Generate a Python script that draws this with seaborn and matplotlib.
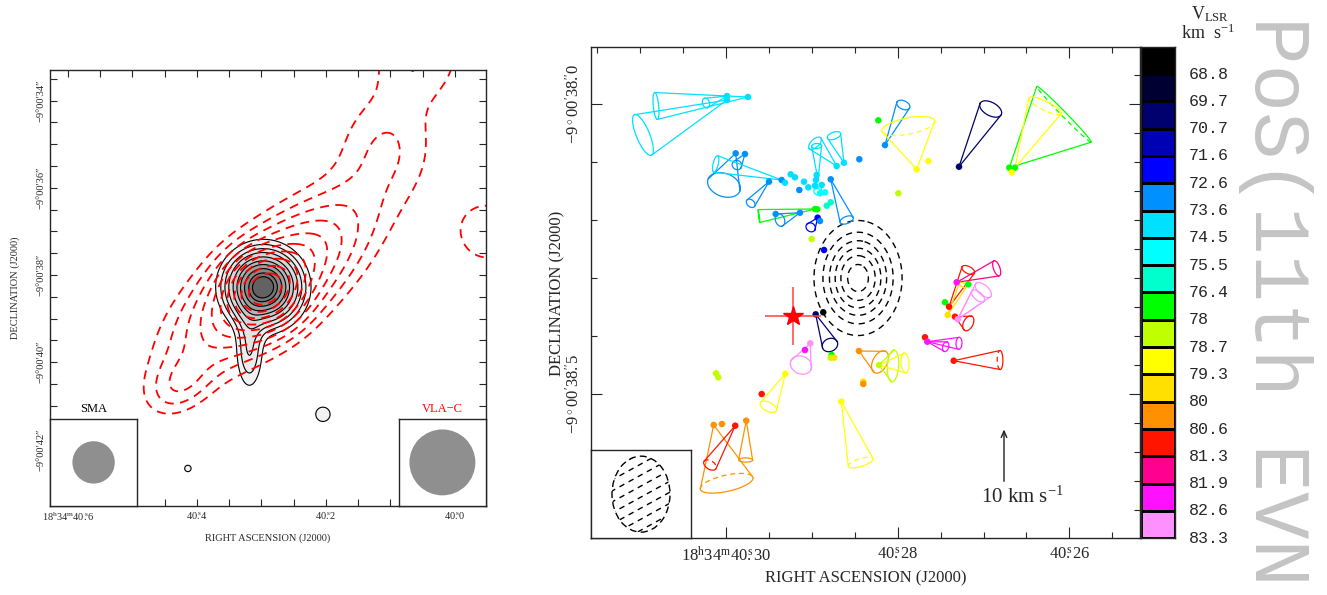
import numpy as np
import matplotlib
matplotlib.use("Agg")
import matplotlib.pyplot as plt
import seaborn as sns
from matplotlib.colors import ListedColormap, Normalize
from matplotlib.patches import Ellipse
from matplotlib.ticker import MultipleLocator, FixedLocator

W, H = 1327, 595
# arcsec per second of RA at dec -9 deg (15 * cos dec)
ARCSEC_PER_S = 14.815

# ---------------- left panel: SMA continuum + VLA-C ----------------
# gaussian components
# RA in seconds of 18h34m, Dec in arcsec of -9d00m
SMA_RA = [40.2969, 40.3185, 40.2046, 40.4138]
SMA_DEC = [38.276, 39.75, 41.195, 42.437]
SMA_AMP = [1.0, 0.22, 0.14, 0.14]
SMA_SMAJ = [0.51, 0.22, 0.20, 0.09]
SMA_SMIN = [0.51, 0.62, 0.20, 0.09]
SMA_PA = [0, 0, 0, 0]
SMA_LEVELS = [0.1, 0.16, 0.225, 0.3, 0.4, 0.5, 0.6, 0.71, 0.82, 0.9]

VLA_RA = [40.2954, 40.2800, 40.2900, 40.1108, 40.0569, 39.9500, 40.4262]
VLA_DEC = [38.345, 38.115, 38.30, 34.897, 32.95, 37.011, 40.529]
VLA_AMP = [0.45, 0.42, 0.25, 0.13, 0.16, 0.15, 0.15]
VLA_SMAJ = [0.55, 2.00, 1.10, 0.85, 0.80, 0.65, 0.57]
VLA_SMIN = [0.55, 0.78, 0.60, 0.85, 0.80, 0.65, 0.40]
VLA_PA = [0, 40, 40, 0, 0, 0, 40]
VLA_LEVELS = [0.1, 0.16, 0.23, 0.31, 0.4, 0.5, 0.6, 0.72, 0.85, 0.98]

SMA_BEAM = 0.94   # arcsec
VLA_BEAM = 1.48

# ---------------- right panel: masers ----------------
VEL_LABELS = ["68.8", "69.7", "70.7", "71.6", "72.6", "73.6", "74.5", "75.5", "76.4",
              "78", "78.7", "79.3", "80", "80.6", "81.3", "81.9", "82.6", "83.3"]
VEL_COLORS = ["#000000", "#000033", "#00006e", "#0000b4", "#0000ff", "#0090ff",
              "#00e0ff", "#00ffff", "#00ffcc", "#00ff00", "#c0ff00", "#ffff00",
              "#ffe000", "#ff9000", "#ff1400", "#ff0090", "#ff10ff", "#ff90ff"]

SPOT_RA = [40.29988, 40.29988, 40.29744, 40.29887, 40.29779, 40.29351, 40.29313, 40.29499,
           40.28963, 40.28937, 40.29138, 40.29421, 40.28932, 40.28905, 40.29002, 40.28858,
           40.29246, 40.29196, 40.29091, 40.29146, 40.29041, 40.28963, 40.28952, 40.28944,
           40.28885, 40.28905, 40.28847, 40.28827, 40.28780, 40.28711, 40.28626, 40.28780,
           40.28447, 40.28148, 40.28226, 40.27779, 40.27644, 40.27993, 40.27286, 40.26700,
           40.26634, 40.26672, 40.28867, 40.28955, 40.29018, 40.29080, 40.28769, 40.28780,
           40.28739, 40.30116, 40.30090, 40.29309, 40.29584, 40.30143, 40.30047, 40.29892,
           40.29764, 40.28657, 40.28451, 40.28401, 40.28401, 40.28218, 40.27449, 40.27402,
           40.27418, 40.27333, 40.27301, 40.27313, 40.27178, 40.27682, 40.27655, 40.27348]
SPOT_DEC = [37.9857, 37.9926, 37.9874, 38.0845, 38.0857, 38.1305, 38.1352, 38.1334,
            38.1805, 38.1810, 38.1869, 38.1891, 38.1955, 38.2012, 38.2322, 38.2512,
            38.1207, 38.1259, 38.1334, 38.1478, 38.1431, 38.1403, 38.1305, 38.1219,
            38.1391, 38.1534, 38.1517, 38.1748, 38.1690, 38.1064, 38.1007, 38.1293,
            38.0948, 38.0703, 38.0276, 38.1121, 38.0978, 38.1534, 38.1076, 38.1093,
            38.1093, 38.1172, 38.3586, 38.3621, 38.4121, 38.4236, 38.4322, 38.4369,
            38.4369, 38.4638, 38.4707, 38.4645, 38.4995, 38.5529, 38.5512, 38.5541,
            38.5455, 38.5127, 38.4253, 38.4783, 38.4822, 38.4495, 38.3414, 38.3490,
            38.3633, 38.3662, 38.3707, 38.3069, 38.3103, 38.4017, 38.4093, 38.4421]
SPOT_V = [6, 6, 6, 5, 5, 5, 6, 5,
          9, 9, 5, 5, 4, 5, 10, 4,
          6, 6, 6, 5, 6, 6, 6, 6,
          6, 7, 7, 8, 8, 6, 6, 5,
          5, 5, 9, 11, 11, 10, 2, 9,
          9, 11, 0, 2, 17, 16, 9, 10,
          12, 10, 10, 11, 14, 13, 13, 14,
          13, 11, 13, 12, 13, 10, 9, 14,
          12, 14, 17, 16, 9, 14, 16, 14]

# 3D velocity cones: apex at the spot, base centre at the vector tip
CONE_RA0 = [40.29988, 40.29744, 40.29988, 40.29887, 40.29779, 40.29351, 40.29499, 40.28963,
            40.29138, 40.28932, 40.28711, 40.28928, 40.28626, 40.28780, 40.28885, 40.28148,
            40.27779, 40.27286, 40.26700, 40.26634, 40.28955, 40.29018, 40.29309, 40.30143,
            40.29892, 40.29764, 40.28657, 40.28451, 40.28218, 40.28218, 40.27333, 40.27301,
            40.27313, 40.27402, 40.27655, 40.27655, 40.27348, 40.27301, 40.27418]
CONE_DEC0 = [37.9926, 37.9874, 37.9857, 38.0845, 38.0857, 38.1305, 38.1334, 38.1805,
             38.1869, 38.1955, 38.1064, 38.1305, 38.1007, 38.1293, 38.1391, 38.0703,
             38.1121, 38.1076, 38.1093, 38.1093, 38.3621, 38.4121, 38.4645, 38.5529,
             38.5541, 38.5455, 38.5127, 38.4253, 38.4495, 38.4495, 38.3662, 38.3707,
             38.3069, 38.3490, 38.4093, 38.4093, 38.4421, 38.3707, 38.3633]
CONE_RA1 = [40.30967, 40.30815, 40.30233, 40.30023, 40.29872, 40.30120, 40.29712, 40.29616,
            40.29371, 40.29013, 40.28963, 40.28944, 40.28742, 40.28594, 40.28932, 40.27935,
            40.27877, 40.26917, 40.26063, 40.26284, 40.28789, 40.29126, 40.29507, 40.29992,
            40.30186, 40.29771, 40.28431, 40.28206, 40.28055, 40.27915, 40.27178, 40.27003,
            40.26847, 40.27178, 40.27286, 40.27441, 40.26808, 40.27065, 40.27239]
CONE_DEC1 = [38.0529, 38.0029, 37.9978, 38.1391, 38.1047, 38.1029, 38.1707, 38.1926,
             38.1995, 38.2121, 38.0672, 38.0719, 38.0541, 38.1995, 38.1507, 38.0012,
             38.0374, 38.0081, 38.0172, 38.0026, 38.4150, 38.4495, 38.5214, 38.6534,
             38.6219, 38.6133, 38.6176, 38.4443, 38.4512, 38.4460, 38.3776, 38.3202,
             38.2828, 38.2857, 38.4121, 38.4179, 38.4409, 38.3305, 38.3115]
CONE_R = [0.0379, 0.0233, 0.0086, 0.0293, 0.0086, 0.0147, 0.0086, 0.0112,
          0.0112, 0.0086, 0.0138, 0.0086, 0.0121, 0.0121, 0.0069, 0.0121,
          0.0466, 0.0207, 0.0672, 0.0310, 0.0138, 0.0190, 0.0155, 0.0466,
          0.0121, 0.0121, 0.0224, 0.0207, 0.0276, 0.0172, 0.0138, 0.0172,
          0.0138, 0.0121, 0.0103, 0.0086, 0.0164, 0.0138, 0.0069]
CONE_Q = [0.3, 0.2, 0.7, 0.68, 0.9, 0.3, 0.7, 0.05,
          0.7, 0.85, 0.5, 0.5, 0.5, 0.5, 0.8, 0.6,
          0.3, 0.55, 0.06, 0.25, 0.8, 0.8, 0.5, 0.3,
          0.6, 0.3, 0.3, 0.6, 0.35, 0.4, 0.6, 0.5,
          0.4, 0.5, 0.5, 0.6, 0.3, 0.5, 0.5]
CONE_V = [6, 6, 6, 5, 5, 6, 5, 9,
          5, 4, 6, 6, 6, 5, 7, 5,
          11, 2, 9, 11, 2, 17, 11, 13,
          14, 13, 11, 13, 10, 11, 14, 17,
          15, 14, 16, 16, 14, 17, 12]
CONE_BACK = [0, 0, 0, 0, 0, 0, 0, 0,
             0, 0, 0, 0, 0, 0, 0, 0,
             1, 0, 1, 1, 0, 0, 0, 1,
             1, 0, 1, 0, 0, 0, 0, 0,
             0, 0, 0, 0, 1, 0, 0]

# dashed continuum contours in the maser panel
DISK_RA, DISK_DEC = 40.28462, 38.2995
DISK_SX, DISK_SY = 0.039, 0.0509
DISK_LEVELS = [0.15, 0.3, 0.45, 0.6, 0.75, 0.9]
BEAM_R_MAJ, BEAM_R_MIN = 0.0655, 0.05

STAR_RA, STAR_DEC = 40.29223, 38.3645
STAR_ERR_RA, STAR_ERR_DEC = 0.00326, 0.050

ARROW_RA, ARROW_DEC0, ARROW_DEC1 = 40.26762, 38.6547, 38.5559


def gauss_map(RA, DEC, ras, decs, amps, smaj, smin, pa):
    Z = np.zeros_like(RA)
    for ra, dec, a, s1, s2, p in zip(ras, decs, amps, smaj, smin, pa):
        U = -(RA - ra) * ARCSEC_PER_S
        V = -(DEC - dec)
        th = np.radians(p)
        u = U * np.cos(th) + V * np.sin(th)
        v = -U * np.sin(th) + V * np.cos(th)
        Z += a * np.exp(-0.5 * (u ** 2 / s1 ** 2 + v ** 2 / s2 ** 2))
    return Z


def draw_cone(ax, ra0, dec0, ra1, dec1, r, q, color, back):
    # work in isotropic arcsec coords (U right, V up)
    p0 = np.array([-ra0 * ARCSEC_PER_S, -dec0])
    p1 = np.array([-ra1 * ARCSEC_PER_S, -dec1])
    d = p1 - p0
    e = d / np.hypot(*d)
    n = np.array([-e[1], e[0]])

    def to_sky(pts):
        return -pts[:, 0] / ARCSEC_PER_S, -pts[:, 1]

    for sgn in (1, -1):
        seg = np.array([p0, p1 + sgn * r * n])
        x, y = to_sky(seg)
        ax.plot(x, y, color=color, lw=0.9, solid_capstyle="round")

    if back:
        t = np.linspace(0, np.pi, 60)
        far = p1 + np.outer(r * np.cos(t), n) + np.outer(r * q * np.sin(t), e)
        x, y = to_sky(far)
        ax.plot(x, y, color=color, lw=0.9)
        t = np.linspace(np.pi, 2 * np.pi, 60)
        near = p1 + np.outer(r * np.cos(t), n) + np.outer(r * q * np.sin(t), e)
        x, y = to_sky(near)
        ax.plot(x, y, color=color, lw=0.9, ls=(0, (4, 3)))
    else:
        t = np.linspace(0, 2 * np.pi, 100)
        ell = p1 + np.outer(r * np.cos(t), n) + np.outer(r * q * np.sin(t), e)
        x, y = to_sky(ell)
        ax.plot(x, y, color=color, lw=0.9)


sns.set_style("ticks", {"xtick.direction": "in", "ytick.direction": "in"})
plt.rcParams["font.family"] = ["Liberation Serif", "DejaVu Serif"]
plt.rcParams["mathtext.fontset"] = "custom"
plt.rcParams["mathtext.rm"] = "Liberation Serif"
plt.rcParams["mathtext.it"] = "Liberation Serif:italic"

fig = plt.figure(figsize=(W / 100, H / 100), dpi=100)

# ================= left panel =================
axL = fig.add_axes([50 / W, 1 - 506 / H, 436 / W, 436 / H])
ra_g = np.linspace(39.94, 40.64, 500)
dec_g = np.linspace(33.2, 43.4, 500)
RA, DEC = np.meshgrid(ra_g, dec_g)

sma = gauss_map(RA, DEC, SMA_RA, SMA_DEC, SMA_AMP, SMA_SMAJ, SMA_SMIN, SMA_PA)
vla = gauss_map(RA, DEC, VLA_RA, VLA_DEC, VLA_AMP, VLA_SMAJ, VLA_SMIN, VLA_PA)

axL.contourf(RA, DEC, sma, levels=SMA_LEVELS + [sma.max() + 0.01], cmap="Greys",
             norm=Normalize(vmin=-0.02, vmax=1.4))
axL.contour(RA, DEC, sma, levels=SMA_LEVELS, colors="black", linewidths=0.8)
cv = axL.contour(RA, DEC, vla, levels=VLA_LEVELS, colors="red", linewidths=1.3)
cv.set_linestyle((0, (5, 3.5)))

axL.set_xlim(40.62742, 39.95198)
axL.set_ylim(43.298, 33.298)
axL.xaxis.set_major_locator(FixedLocator([40.6, 40.4, 40.2, 40.0]))
axL.xaxis.set_minor_locator(MultipleLocator(0.05))
axL.yaxis.set_major_locator(FixedLocator([34, 36, 38, 40, 42]))
axL.yaxis.set_minor_locator(MultipleLocator(0.5))
axL.set_xticklabels([r"18$^{\rm h}$34$^{\rm m}$40$\overset{\rm s}{.}$6",
                     r"40$\overset{\rm s}{.}$4", r"40$\overset{\rm s}{.}$2",
                     r"40$\overset{\rm s}{.}$0"])
axL.set_yticklabels(["\u22129\u00b000\u2032%d\u2033" % d for d in [34, 36, 38, 40, 42]],
                    rotation=90, va="center")
axL.tick_params(which="both", direction="in", top=True, right=True,
                length=5, width=0.8, labelsize=7.5, pad=3)
for s in axL.spines.values():
    s.set_linewidth(1.0)

# beam boxes
for pos, beam, name, col in [((0, 0), SMA_BEAM, "SMA", "black"),
                             ((0.8, 0), VLA_BEAM, "VLA\u2212C", "red")]:
    bx = axL.inset_axes([pos[0], pos[1], 0.2, 0.2])
    bx.set_xlim(-1, 1)
    bx.set_ylim(-1, 1)
    bx.add_patch(Ellipse((0, 0), beam, beam, color="#8f8f8f"))
    bx.set_xticks([])
    bx.set_yticks([])
    bx.set_facecolor("white")
    for s in bx.spines.values():
        s.set_linewidth(1.0)
    axL.text(pos[0] + 0.1, 0.222, name, transform=axL.transAxes, ha="center",
             va="center", fontsize=9, color=col)

fig.text(268 / W, 1 - 538 / H, "RIGHT ASCENSION (J2000)", ha="center", va="center",
         fontsize=7.5)
fig.text(15 / W, 1 - 288 / H, "DECLINATION (J2000)", ha="center", va="center",
         fontsize=7.5, rotation=90)

# ================= right panel =================
axR = fig.add_axes([591 / W, 1 - 538.3 / H, 549 / W, 491.6 / H])
ra_r = np.linspace(40.25, 40.32, 400)
dec_r = np.linspace(37.89, 38.76, 400)
RR, DR = np.meshgrid(ra_r, dec_r)
disk = gauss_map(RR, DR, [DISK_RA], [DISK_DEC], [1.0], [DISK_SX], [DISK_SY], [0])
cd = axR.contour(RR, DR, disk, levels=DISK_LEVELS, colors="black", linewidths=1.0)
cd.set_linestyle((0, (4.5, 3.5)))

for i in range(len(CONE_RA0)):
    draw_cone(axR, CONE_RA0[i], CONE_DEC0[i], CONE_RA1[i], CONE_DEC1[i],
              CONE_R[i], CONE_Q[i], VEL_COLORS[CONE_V[i]], CONE_BACK[i])

palette = {i: c for i, c in enumerate(VEL_COLORS)}
sns.scatterplot(x=SPOT_RA, y=SPOT_DEC, hue=SPOT_V, palette=palette, s=22,
                linewidth=0, legend=False, ax=axR, zorder=5)

axR.errorbar(STAR_RA, STAR_DEC, xerr=STAR_ERR_RA, yerr=STAR_ERR_DEC, fmt="*",
             color="red", ms=15, ecolor="#ff4040", elinewidth=1.1, capsize=0, zorder=6)

axR.annotate("", xy=(ARROW_RA, ARROW_DEC1), xytext=(ARROW_RA, ARROW_DEC0),
             arrowprops=dict(arrowstyle="->,head_length=0.45,head_width=0.2",
                             lw=1.0, color="#222222"))
axR.text(40.26541, 38.6766, r"10 km s$^{-1}$", ha="center", va="center", fontsize=15)

axR.set_xlim(40.31572, 40.25178)
axR.set_ylim(38.74826, 37.90069)
axR.xaxis.set_major_locator(FixedLocator([40.30, 40.28, 40.26]))
axR.xaxis.set_minor_locator(MultipleLocator(0.005))
axR.yaxis.set_major_locator(FixedLocator([38.0, 38.5]))
axR.yaxis.set_minor_locator(MultipleLocator(0.1))
axR.set_xticklabels([r"18$^{\rm h}$34$^{\rm m}$40$\overset{\rm s}{.}$30",
                     r"40$\overset{\rm s}{.}$28", r"40$\overset{\rm s}{.}$26"])
axR.set_yticklabels([r"$-$9$^\circ$00$^\prime$38$\overset{\prime\prime}{.}$0",
                     r"$-$9$^\circ$00$^\prime$38$\overset{\prime\prime}{.}$5"],
                    rotation=90, va="center")
axR.tick_params(which="major", direction="in", top=True, right=False,
                length=8, width=0.8, labelsize=12, pad=6)
axR.tick_params(which="minor", direction="in", top=True, right=False,
                length=4.5, width=0.8)
sec = axR.secondary_yaxis("right")
sec.yaxis.set_major_locator(FixedLocator([38.0, 38.5]))
sec.yaxis.set_minor_locator(MultipleLocator(0.05))
sec.tick_params(which="major", direction="in", length=8, width=0.8, labelright=False)
sec.tick_params(which="minor", direction="in", length=4.5, width=0.8)
for s in axR.spines.values():
    s.set_linewidth(1.0)

# beam inset in maser panel
bb = axR.inset_axes([0, 0, 100 / 549, 88.3 / 491.6])
bb.set_xlim(-0.0862, 0.0862)
bb.set_ylim(-0.0761, 0.0761)
beam = Ellipse((0, 0), 2 * BEAM_R_MIN, 2 * BEAM_R_MAJ, fill=False, lw=1.0,
               ls=(0, (5, 3)), ec="black")
bb.add_patch(beam)
xs = np.array([-0.1, 0.1])
for c in np.arange(-0.1, 0.1, 0.019):
    ln, = bb.plot(xs, xs * 0.55 + c, color="black", lw=1.0, ls=(0, (4, 3.5)))
    ln.set_clip_path(beam)
bb.set_xticks([])
bb.set_yticks([])
bb.set_facecolor("white")
for s in bb.spines.values():
    s.set_linewidth(1.0)

fig.text(866 / W, 1 - 578 / H, "RIGHT ASCENSION (J2000)", ha="center", va="center",
         fontsize=12)
fig.text(557 / W, 1 - 293 / H, "DECLINATION (J2000)", ha="center", va="center",
         fontsize=12, rotation=90)

# ================= velocity colour bar =================
cax = fig.add_axes([1141 / W, 1 - 538.3 / H, 34 / W, 491.6 / H])
sns.heatmap(np.arange(len(VEL_COLORS)).reshape(-1, 1), cmap=ListedColormap(VEL_COLORS),
            cbar=False, linewidths=1, linecolor="black", ax=cax)
cax.set_xticks([])
cax.yaxis.tick_right()
cax.set_yticks(np.arange(1, len(VEL_LABELS) + 1))
cax.set_yticklabels(VEL_LABELS, rotation=0, va="center", fontsize=12,
                    family=["Liberation Mono", "DejaVu Sans Mono"])
cax.tick_params(axis="y", length=0, pad=10)
for s in cax.spines.values():
    s.set_visible(True)
    s.set_linewidth(1.0)

fig.text(1210 / W, 1 - 14 / H, r"V$_{\rm LSR}$", ha="center", va="center", fontsize=13)
fig.text(1208 / W, 1 - 33 / H, r"km  s$^{-1}$", ha="center", va="center", fontsize=13)

fig.text(1276 / W, 1 - 16 / H, "PoS(11th EVN", rotation=-90, ha="center", va="top",
         fontsize=57, color="#c4c4c4", family=["Liberation Mono", "DejaVu Sans Mono"])

fig.savefig("out.png", dpi=100)
